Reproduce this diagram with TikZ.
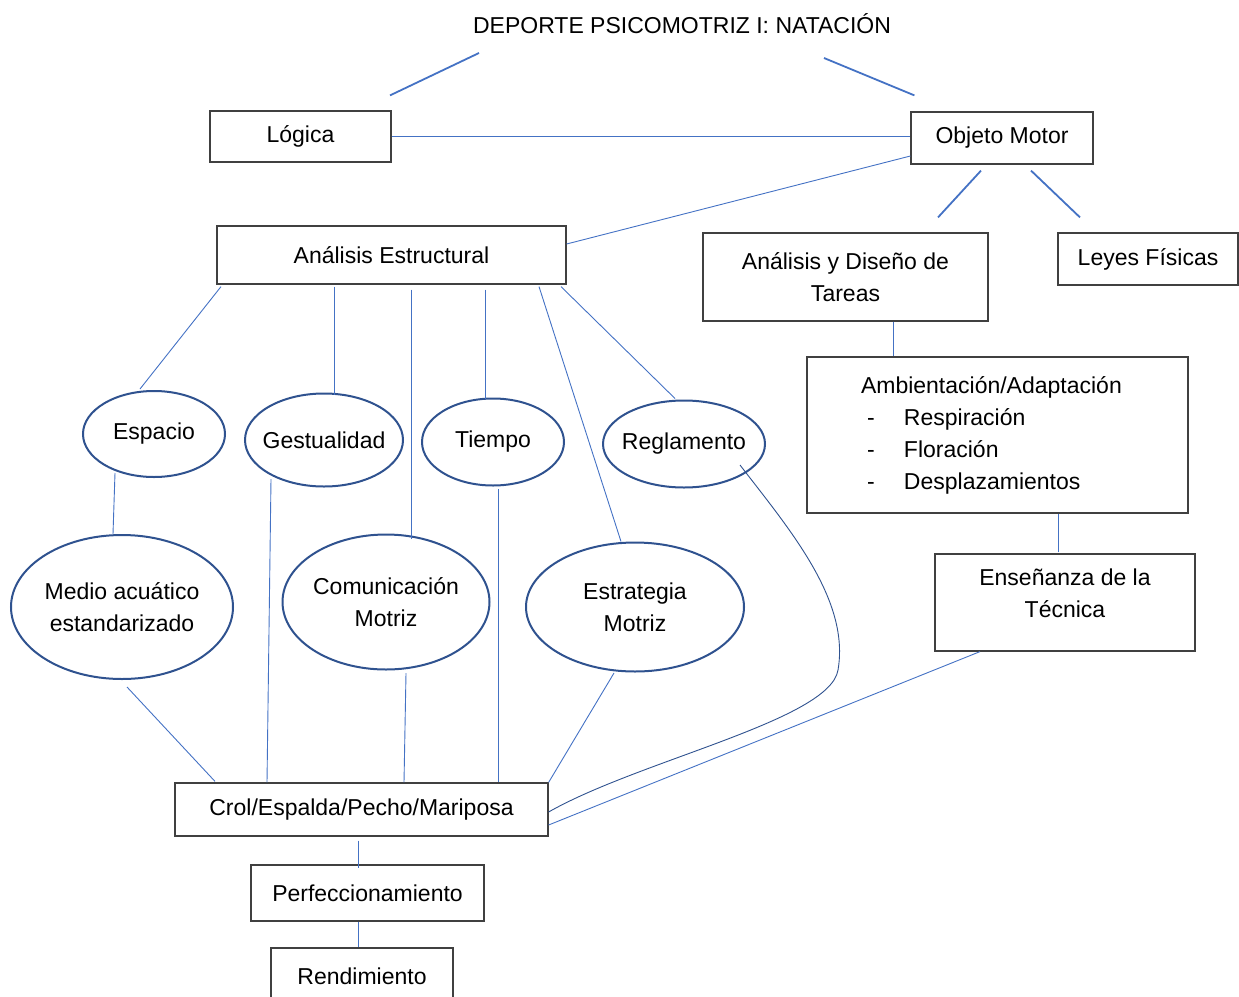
\documentclass[tikz,border=0pt]{standalone}
\usepackage{fontspec}
\setmainfont{Liberation Sans}
\usetikzlibrary{shapes.geometric}
\definecolor{linkblue}{HTML}{4472C4}
\definecolor{ringblue}{HTML}{2F528F}
\definecolor{boxgray}{HTML}{404040}
\begin{document}
\begin{tikzpicture}[x=1pt,y=-1pt,
    every node/.style={font=\fontsize{23}{32}\selectfont,inner sep=0pt,align=center},
    box/.style={draw=boxgray,line width=1.2pt,rectangle},
    bubble/.style={draw=ringblue,line width=2pt,ellipse,inner xsep=-12pt},
    link/.style={linkblue,line width=0.9pt},
    boldlink/.style={linkblue,line width=1.8pt}]
    \useasboundingbox (0,0) rectangle (1239,996);
    % top of the map
    \node (title) at (682,24) {DEPORTE PSICOMOTRIZ I: NATACIÓN};
    \node[box,minimum width=181pt,minimum height=51pt] (log) at (300.5,136.5) {Lógica};
    \node[box,minimum width=182pt,minimum height=52pt] (obj) at (1002,138) {Objeto Motor};
    \node[box,minimum width=349pt,minimum height=58pt] (aest) at (391.5,255) {Análisis Estructural};
    \node[box,minimum width=285pt,minimum height=88pt] (adt) at (845.5,277) {Análisis y Diseño de\\Tareas};
    \node[box,minimum width=180pt,minimum height=52pt] (ley) at (1148,259) {Leyes Físicas};
    \node[box,minimum width=381pt,minimum height=156pt,align=left,text width=273pt,inner xsep=54pt] (amb) at (997.5,435)
        {Ambientación/Adaptación\\
         \hspace*{6pt}\makebox[37pt][l]{-}Respiración\\
         \hspace*{6pt}\makebox[37pt][l]{-}Floración\\
         \hspace*{6pt}\makebox[37pt][l]{-}Desplazamientos\\[-8pt]};
    \node[box,minimum width=260pt,minimum height=97pt] (ens) at (1065,602.5) {Enseñanza de la\\Técnica\\[-14pt]};
    % ellipses
    \node[bubble,minimum width=142pt,minimum height=86pt] (esp) at (154,434) {Espacio};
    \node[bubble,minimum width=158pt,minimum height=93pt] (gest) at (324,440) {Gestualidad};
    \node[bubble,minimum width=142pt,minimum height=87pt] (tie) at (493,442) {Tiempo};
    \node[bubble,minimum width=162pt,minimum height=87pt] (regl) at (684,444) {Reglamento};
    \node[bubble,minimum width=222pt,minimum height=144pt] (medio) at (122,607) {Medio acuático\\estandarizado};
    \node[bubble,minimum width=207pt,minimum height=135pt] (com) at (386,602) {Comunicación\\Motriz};
    \node[bubble,minimum width=218pt,minimum height=129pt] (estr) at (635,607) {Estrategia\\Motriz};
    % bottom
    \node[box,minimum width=373pt,minimum height=53pt] (crol) at (361.5,809.5) {Crol/Espalda/Pecho/Mariposa};
    \node[box,minimum width=233pt,minimum height=56pt] (perf) at (367.5,893) {Perfeccionamiento};
    \node[box,minimum width=182pt,minimum height=56pt] (rend) at (362,976) {Rendimiento};

    \draw[boldlink] ([shift={(89.5,-15)}]log.north) -- ([shift={(-203,29)}]title.center);
    \draw[boldlink] ([shift={(142,34)}]title.center) -- ([shift={(4,-16)}]obj.north west);
    \draw[link] (log.east) -- (log.east -| obj.west);
    \draw[link] ([shift={(0,18)}]obj.west) -- ([shift={(0,-11)}]aest.east);
    \draw[boldlink] ([shift={(-21,6)}]obj.south) -- ([shift={(92.5,-15)}]adt.north);
    \draw[boldlink] ([shift={(29,6)}]obj.south) -- ([shift={(-68,-15)}]ley.north);
    \draw[link] ([shift={(47.5,0)}]adt.south) -- ([shift={(47.5,0)}]adt.south |- amb.north);
    \draw[link] ([shift={(-7,-1)}]ens.north) -- ([shift={(-7,0)}]ens.north |- amb.south);
    \draw[link] ([shift={(-85,0)}]ens.south) -- ([shift={(0,15.5)}]crol.east);
    \draw[ringblue,line width=0.9pt] ([shift={(56,21)}]regl.center)
        .. controls (790,530) and (850,600) .. (838,670)
        .. controls (830,720) and (640,760) .. ([shift={(0,2.5)}]crol.east);
    % from Analisis Estructural
    \draw[link] ([shift={(-170.5,2)}]aest.south) -- ([shift={(-14,-1)}]esp.north);
    \draw[link] ([shift={(-57.5,2)}]aest.south) -- ([shift={(-57.5,2)}]aest.south |- gest.north);
    \draw[link] ([shift={(19.5,5)}]aest.south) -- ([shift={(19.5,5)}]aest.south |- com.north);
    \draw[link,shorten >=4pt] ([shift={(93.5,5)}]aest.south) -- ([shift={(93.5,5)}]aest.south |- tie.north);
    \draw[link] ([shift={(147.5,2)}]aest.south) -- ([shift={(-14,0)}]estr.north);
    \draw[link] ([shift={(169.5,2)}]aest.south) -- ([shift={(-9,-1)}]regl.north);
    % down to Crol
    \draw[link] ([shift={(-39,-5)}]esp.south) -- ([shift={(-9,0)}]medio.north);
    \draw[link] ([shift={(5,7)}]medio.south) -- ([shift={(-146.5,-1)}]crol.north);
    \draw[link] ([shift={(-53,-8.5)}]gest.south) -- ([shift={(-94.5,0)}]crol.north);
    \draw[link] ([shift={(20,2.5)}]com.south) -- ([shift={(42.5,0)}]crol.north);
    \draw[link] ([shift={(5,2.5)}]tie.south) -- ([shift={(136.5,0)}]crol.north);
    \draw[link] ([shift={(-21,0.5)}]estr.south) -- (crol.north east);
    \draw[link] ([shift={(-3.5,4)}]crol.south) -- ([shift={(-3.5,4)}]crol.south |- perf.north);
    \draw[link] ([shift={(-9.5,0)}]perf.south) -- ([shift={(-9.5,0)}]perf.south |- rend.north);
\end{tikzpicture}
\end{document}
